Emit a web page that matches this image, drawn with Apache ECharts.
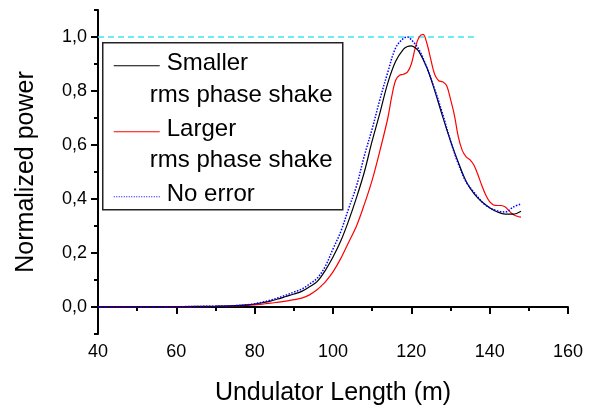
<!DOCTYPE html>
<html>
<head>
<meta charset="utf-8">
<script src="https://cdn.jsdelivr.net/npm/echarts@6/dist/echarts.min.js"></script>
<style>html,body{margin:0;padding:0;background:#fff}#c{width:591px;height:411px}</style>
</head>
<body>
<div id="c"></div>
<script>
// ---- data ----
const xTickLabels = [40, 60, 80, 100, 120, 140, 160];
const yTickLabels = [0.0, 0.2, 0.4, 0.6, 0.8, 1.0];

const smallerX = [40,50,60,65,70,75,78,80,82,84,86,88,90,92,94,96,98,100,102,104,106,108,110,112,114,116,118,119,120,121,122,124,126,128,130,132,134,136,138,140,142,144,146,148];
const smallerY = [0,0,0.001,0.002,0.003,0.005,0.008,0.011,0.016,0.022,0.03,0.039,0.048,0.058,0.075,0.095,0.135,0.185,0.245,0.32,0.405,0.5,0.615,0.72,0.83,0.91,0.955,0.965,0.967,0.96,0.945,0.885,0.8,0.705,0.615,0.535,0.465,0.42,0.39,0.368,0.352,0.344,0.344,0.355];

const largerX = [40,50,60,65,70,75,78,80,82,84,86,88,90,92,94,96,97,98,100,102,104,106,108,110,112,114,115,116,117,118,119,120,121,122,123,124,125,126,127,128,129,130,131,132,133,134,135,136,137,138,139,140,141,142,143,144,145,146,147,148];
const largerY = [0,0,0,0.001,0.002,0.004,0.006,0.008,0.011,0.014,0.018,0.022,0.027,0.033,0.045,0.065,0.078,0.092,0.13,0.18,0.24,0.3,0.38,0.47,0.58,0.7,0.78,0.84,0.858,0.862,0.87,0.9,0.96,1.0,1.01,0.975,0.915,0.86,0.838,0.834,0.82,0.77,0.71,0.63,0.58,0.556,0.545,0.525,0.49,0.45,0.415,0.39,0.378,0.376,0.376,0.37,0.355,0.343,0.336,0.333];

const noErrorX = [40,50,60,65,70,75,78,80,82,84,86,88,90,92,94,96,98,100,102,104,106,108,110,112,114,116,118,119,120,122,124,126,128,130,132,134,136,138,140,142,144,146,148];
const noErrorY = [0,0,0.001,0.002,0.003,0.005,0.008,0.012,0.018,0.025,0.034,0.044,0.055,0.066,0.085,0.107,0.15,0.215,0.28,0.365,0.448,0.56,0.66,0.77,0.87,0.96,0.995,1.0,0.99,0.952,0.885,0.805,0.715,0.615,0.53,0.463,0.425,0.39,0.367,0.356,0.352,0.37,0.382];

const refLineX = [40, 136];
const refLineY = [1.0, 1.0];

const legendNames = ['Smaller', 'rms phase shake', 'Larger', 'rms phase shake', 'No error'];
// ---------------

const FONT = '"Liberation Sans", Arial, sans-serif';
const pair = (xs, ys) => xs.map((x, i) => [x, ys[i]]);
const fmtY = v => Number(v).toFixed(1).replace('.', ',');

const chart = echarts.init(document.getElementById('c'));
const axisLine = { lineStyle: { color: '#000', width: 2 } };

chart.setOption({
  animation: false,
  backgroundColor: '#fff',
  grid: { left: 98, right: 23, top: 10, bottom: 76 },
  xAxis: {
    type: 'value', min: 40, max: 160, interval: 20,
    axisLine: axisLine,
    axisTick: { length: 7, lineStyle: { color: '#000', width: 2 } },
    minorTick: { show: true, splitNumber: 2, length: 4, lineStyle: { color: '#000', width: 2 } },
    splitLine: { show: false },
    axisLabel: { fontFamily: FONT, fontSize: 18, color: '#000', margin: 9 },
    name: 'Undulator Length (m)', nameLocation: 'middle', nameGap: 47,
    nameTextStyle: { fontFamily: FONT, fontSize: 25, color: '#000' }
  },
  yAxis: [{
    type: 'value', min: -0.1, max: 1.1, interval: 0.1,
    axisLine: axisLine,
    axisTick: { length: 4, lineStyle: { color: '#000', width: 2 } },
    splitLine: { show: false },
    axisLabel: { show: false },
    name: 'Normalized power', nameLocation: 'middle', nameGap: 59,
    nameTextStyle: { fontFamily: FONT, fontSize: 25, color: '#000' }
  }, {
    type: 'value', min: -0.1, max: 1.1, position: 'left', interval: 0.1,
    axisLine: { show: false },
    axisTick: { show: true, length: 7, customValues: yTickLabels, lineStyle: { color: '#000', width: 2 } },
    splitLine: { show: false },
    axisLabel: { customValues: yTickLabels, formatter: fmtY, fontFamily: FONT, fontSize: 18, color: '#000', margin: 11 }
  }],
  series: [
    { type: 'line', data: pair(refLineX, refLineY), symbol: 'none', lineStyle: { color: '#3ee8f0', width: 1.6, type: [6, 4] }, z: 1 },
    { type: 'line', data: pair(smallerX, smallerY), symbol: 'none', smooth: 0.35, lineStyle: { color: '#000', width: 1.2 }, z: 3 },
    { type: 'line', data: pair(largerX, largerY), symbol: 'none', smooth: 0.35, lineStyle: { color: '#ff0000', width: 1.2 }, z: 2 },
    { type: 'line', data: pair(noErrorX, noErrorY), symbol: 'none', smooth: 0.35, lineStyle: { color: '#0000ff', width: 1.5, type: 'dotted' }, z: 4 }
  ],
  graphic: [{
    type: 'group', left: 102, top: 42,
    children: [
      { type: 'rect', shape: { x: 0, y: 0, width: 240, height: 167 }, style: { fill: '#fff', stroke: '#222', lineWidth: 1.5 } },
      { type: 'line', shape: { x1: 11, y1: 23, x2: 57, y2: 23 }, style: { stroke: '#000', lineWidth: 1.2 } },
      { type: 'line', shape: { x1: 11, y1: 89, x2: 57, y2: 89 }, style: { stroke: '#ff0000', lineWidth: 1.2 } },
      { type: 'line', shape: { x1: 11, y1: 154, x2: 57, y2: 154 }, style: { stroke: '#0000ff', lineWidth: 1.2, lineDash: [1, 1.5] } },
      { type: 'text', x: 64, y: 20.4, style: { text: legendNames[0], font: '24px ' + FONT, fill: '#000', verticalAlign: 'middle' } },
      { type: 'text', x: 47, y: 53, style: { text: legendNames[1], font: '24px ' + FONT, fill: '#000', verticalAlign: 'middle' } },
      { type: 'text', x: 64, y: 86.4, style: { text: legendNames[2], font: '24px ' + FONT, fill: '#000', verticalAlign: 'middle' } },
      { type: 'text', x: 47, y: 118, style: { text: legendNames[3], font: '24px ' + FONT, fill: '#000', verticalAlign: 'middle' } },
      { type: 'text', x: 64, y: 151.4, style: { text: legendNames[4], font: '24px ' + FONT, fill: '#000', verticalAlign: 'middle' } }
    ]
  }]
});
</script>
</body>
</html>
